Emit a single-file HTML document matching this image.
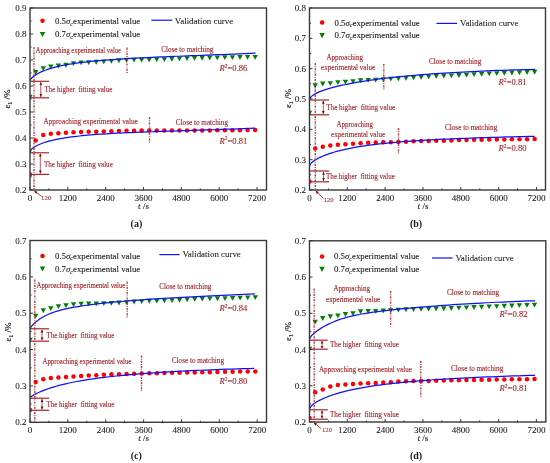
<!DOCTYPE html>
<html><head><meta charset="utf-8"><style>
html,body{margin:0;padding:0;background:#fff;}
svg{display:block;font-family:"Liberation Serif", serif;will-change:transform;}
</style></head><body>
<svg width="550" height="463" viewBox="0 0 550 463">
<rect width="550" height="463" fill="#fff"/>
<clipPath id="c308"><rect x="30" y="8" width="236.5" height="182"/></clipPath><g clip-path="url(#c308)">
<path d="M27.30,94.65 L32.70,94.65 L30.00,99.50 Z" fill="#008000"/>
<path d="M32.97,69.96 L38.38,69.96 L35.67,74.81 Z" fill="#008000"/>
<path d="M40.54,66.23 L45.94,66.23 L43.24,71.08 Z" fill="#008000"/>
<path d="M48.11,64.45 L53.51,64.45 L50.81,69.30 Z" fill="#008000"/>
<path d="M55.67,63.54 L61.08,63.54 L58.38,68.39 Z" fill="#008000"/>
<path d="M63.24,62.83 L68.64,62.83 L65.94,67.68 Z" fill="#008000"/>
<path d="M70.81,61.25 L76.21,61.25 L73.51,66.10 Z" fill="#008000"/>
<path d="M78.38,60.51 L83.78,60.51 L81.08,65.36 Z" fill="#008000"/>
<path d="M85.94,60.16 L91.34,60.16 L88.64,65.01 Z" fill="#008000"/>
<path d="M93.51,59.84 L98.91,59.84 L96.21,64.69 Z" fill="#008000"/>
<path d="M101.08,59.41 L106.48,59.41 L103.78,64.26 Z" fill="#008000"/>
<path d="M108.64,58.93 L114.04,58.93 L111.34,63.78 Z" fill="#008000"/>
<path d="M116.21,58.29 L121.61,58.29 L118.91,63.14 Z" fill="#008000"/>
<path d="M123.78,57.85 L129.18,57.85 L126.48,62.70 Z" fill="#008000"/>
<path d="M131.34,57.74 L136.74,57.74 L134.04,62.59 Z" fill="#008000"/>
<path d="M138.91,57.65 L144.31,57.65 L141.61,62.50 Z" fill="#008000"/>
<path d="M146.48,57.51 L151.88,57.51 L149.18,62.36 Z" fill="#008000"/>
<path d="M154.04,57.34 L159.44,57.34 L156.74,62.19 Z" fill="#008000"/>
<path d="M161.61,57.14 L167.01,57.14 L164.31,61.99 Z" fill="#008000"/>
<path d="M169.18,56.86 L174.57,56.86 L171.88,61.71 Z" fill="#008000"/>
<path d="M176.74,56.52 L182.14,56.52 L179.44,61.37 Z" fill="#008000"/>
<path d="M184.31,56.23 L189.71,56.23 L187.01,61.08 Z" fill="#008000"/>
<path d="M191.88,56.00 L197.28,56.00 L194.58,60.85 Z" fill="#008000"/>
<path d="M199.44,55.78 L204.84,55.78 L202.14,60.63 Z" fill="#008000"/>
<path d="M207.01,55.58 L212.41,55.58 L209.71,60.43 Z" fill="#008000"/>
<path d="M214.58,55.40 L219.97,55.40 L217.28,60.25 Z" fill="#008000"/>
<path d="M222.14,55.25 L227.54,55.25 L224.84,60.10 Z" fill="#008000"/>
<path d="M229.71,55.15 L235.11,55.15 L232.41,60.00 Z" fill="#008000"/>
<path d="M237.28,55.06 L242.68,55.06 L239.98,59.91 Z" fill="#008000"/>
<path d="M244.84,54.99 L250.24,54.99 L247.54,59.84 Z" fill="#008000"/>
<path d="M252.41,54.95 L257.81,54.95 L255.11,59.80 Z" fill="#008000"/>
<circle cx="30.00" cy="174.40" r="2.25" fill="#FF0000"/>
<circle cx="35.67" cy="140.53" r="2.25" fill="#FF0000"/>
<circle cx="43.24" cy="134.99" r="2.25" fill="#FF0000"/>
<circle cx="50.81" cy="133.80" r="2.25" fill="#FF0000"/>
<circle cx="58.38" cy="133.19" r="2.25" fill="#FF0000"/>
<circle cx="65.94" cy="132.69" r="2.25" fill="#FF0000"/>
<circle cx="73.51" cy="132.20" r="2.25" fill="#FF0000"/>
<circle cx="81.08" cy="132.00" r="2.25" fill="#FF0000"/>
<circle cx="88.64" cy="131.83" r="2.25" fill="#FF0000"/>
<circle cx="96.21" cy="131.67" r="2.25" fill="#FF0000"/>
<circle cx="103.78" cy="131.49" r="2.25" fill="#FF0000"/>
<circle cx="111.34" cy="131.25" r="2.25" fill="#FF0000"/>
<circle cx="118.91" cy="130.99" r="2.25" fill="#FF0000"/>
<circle cx="126.48" cy="130.80" r="2.25" fill="#FF0000"/>
<circle cx="134.04" cy="130.67" r="2.25" fill="#FF0000"/>
<circle cx="141.61" cy="130.60" r="2.25" fill="#FF0000"/>
<circle cx="149.18" cy="130.58" r="2.25" fill="#FF0000"/>
<circle cx="156.74" cy="130.56" r="2.25" fill="#FF0000"/>
<circle cx="164.31" cy="130.55" r="2.25" fill="#FF0000"/>
<circle cx="171.88" cy="130.54" r="2.25" fill="#FF0000"/>
<circle cx="179.44" cy="130.53" r="2.25" fill="#FF0000"/>
<circle cx="187.01" cy="130.52" r="2.25" fill="#FF0000"/>
<circle cx="194.58" cy="130.50" r="2.25" fill="#FF0000"/>
<circle cx="202.14" cy="130.47" r="2.25" fill="#FF0000"/>
<circle cx="209.71" cy="130.43" r="2.25" fill="#FF0000"/>
<circle cx="217.28" cy="130.37" r="2.25" fill="#FF0000"/>
<circle cx="224.84" cy="130.31" r="2.25" fill="#FF0000"/>
<circle cx="232.41" cy="130.23" r="2.25" fill="#FF0000"/>
<circle cx="239.98" cy="130.16" r="2.25" fill="#FF0000"/>
<circle cx="247.54" cy="130.08" r="2.25" fill="#FF0000"/>
<circle cx="255.11" cy="130.00" r="2.25" fill="#FF0000"/>
<polyline points="30.00,81.21 30.04,80.81 30.14,80.38 30.33,79.94 30.58,79.47 30.90,78.98 31.30,78.48 31.77,77.96 32.31,77.42 32.93,76.88 33.61,76.32 34.37,75.75 35.20,75.18 36.11,74.60 37.08,74.02 38.13,73.43 39.25,72.85 40.44,72.26 41.71,71.68 43.04,71.11 44.45,70.54 45.93,69.97 47.49,69.42 49.11,68.88 50.81,68.36 52.58,67.84 54.43,67.34 56.34,66.86 58.33,66.39 60.39,65.93 62.52,65.48 64.72,65.05 67.00,64.63 69.35,64.23 71.77,63.84 74.26,63.46 76.83,63.09 79.46,62.73 82.17,62.39 84.96,62.06 87.81,61.74 90.74,61.43 93.74,61.13 96.81,60.84 99.95,60.56 103.17,60.29 106.46,60.02 109.82,59.77 113.25,59.52 116.75,59.28 120.33,59.05 123.98,58.82 127.70,58.60 131.49,58.39 135.36,58.18 139.30,57.97 143.31,57.77 147.39,57.57 151.55,57.38 155.78,57.18 160.08,56.99 164.45,56.80 168.89,56.62 173.41,56.43 178.00,56.25 182.66,56.06 187.39,55.87 192.20,55.69 197.07,55.50 202.02,55.31 207.05,55.12 212.14,54.92 217.31,54.72 222.55,54.52 227.86,54.32 233.24,54.11 238.70,53.89 244.23,53.67 249.83,53.44 255.50,53.21" fill="none" stroke="#1010F8" stroke-width="1.25" stroke-linejoin="round"/>
<polyline points="30.00,152.01 30.04,151.61 30.14,151.19 30.32,150.76 30.58,150.32 30.90,149.87 31.30,149.40 31.77,148.93 32.31,148.45 32.92,147.97 33.61,147.48 34.36,146.98 35.19,146.48 36.09,145.98 37.07,145.48 38.11,144.98 39.23,144.48 40.42,143.99 41.68,143.50 43.01,143.01 44.42,142.53 45.90,142.06 47.45,141.59 49.07,141.14 50.77,140.70 52.53,140.27 54.37,139.85 56.28,139.44 58.26,139.04 60.32,138.66 62.45,138.29 64.65,137.92 66.92,137.57 69.26,137.24 71.68,136.91 74.16,136.59 76.72,136.29 79.36,136.00 82.06,135.71 84.83,135.44 87.68,135.18 90.60,134.93 93.60,134.69 96.66,134.46 99.80,134.24 103.01,134.02 106.29,133.81 109.64,133.61 113.06,133.42 116.56,133.23 120.13,133.05 123.77,132.87 127.48,132.70 131.27,132.54 135.13,132.37 139.06,132.21 143.06,132.06 147.13,131.90 151.28,131.75 155.50,131.60 159.79,131.45 164.15,131.30 168.58,131.15 173.09,131.01 177.67,130.86 182.32,130.71 187.04,130.55 191.84,130.40 196.70,130.24 201.64,130.08 206.65,129.92 211.74,129.75 216.89,129.58 222.12,129.41 227.42,129.22 232.79,129.04 238.24,128.84 243.75,128.64 249.34,128.43 255.00,128.22" fill="none" stroke="#1010F8" stroke-width="1.25" stroke-linejoin="round"/>
</g>
<line x1="34" y1="47" x2="34" y2="190" stroke="#A3262C" stroke-width="1.4" stroke-opacity="0.85" stroke-dasharray="2.2,1.1,0.9,1.1"/>
<line x1="127" y1="47.5" x2="127" y2="73.5" stroke="#A3262C" stroke-width="1.4" stroke-opacity="0.85" stroke-dasharray="2.2,1.1,0.9,1.1"/>
<line x1="149.5" y1="117" x2="149.5" y2="143" stroke="#A3262C" stroke-width="1.4" stroke-opacity="0.85" stroke-dasharray="2.2,1.1,0.9,1.1"/>
<line x1="30" y1="81.3" x2="49" y2="81.3" stroke="#A3262C" stroke-width="1.2"/>
<line x1="30" y1="97.8" x2="49" y2="97.8" stroke="#A3262C" stroke-width="1.2"/>
<line x1="40.8" y1="82.3" x2="40.8" y2="96.8" stroke="#A3262C" stroke-width="0.8"/>
<path d="M39.5,85.1 L40.8,81.89999999999999 L42.099999999999994,85.1 Z M39.5,94.0 L40.8,97.2 L42.099999999999994,94.0 Z" fill="#8B0000"/>
<line x1="30" y1="152.8" x2="49" y2="152.8" stroke="#A3262C" stroke-width="1.2"/>
<line x1="30" y1="174.4" x2="49" y2="174.4" stroke="#A3262C" stroke-width="1.2"/>
<line x1="40.3" y1="153.8" x2="40.3" y2="173.4" stroke="#A3262C" stroke-width="0.8"/>
<path d="M39.0,156.6 L40.3,153.4 L41.599999999999994,156.6 Z M39.0,170.60000000000002 L40.3,173.8 L41.599999999999994,170.60000000000002 Z" fill="#8B0000"/>
<text transform="translate(35.8,53.2) scale(1,1.25)" font-size="6.5" fill="#A3262C" stroke="#A3262C" stroke-width="0.12">Approaching experimental value</text>
<text transform="translate(161.2,51.8) scale(1,1.1)" font-size="7.2" fill="#A3262C" stroke="#A3262C" stroke-width="0.12">Close to matching</text>
<text transform="translate(44.4,91.6) scale(1,1.1)" font-size="7" fill="#A3262C" stroke="#A3262C" stroke-width="0.12">The higher&#160; fitting value</text>
<text transform="translate(43.6,124.4) scale(1,1.1)" font-size="7.2" fill="#A3262C" stroke="#A3262C" stroke-width="0.12">Approaching experimental value</text>
<text transform="translate(175.8,124.7) scale(1,1.1)" font-size="7.2" fill="#A3262C" stroke="#A3262C" stroke-width="0.12">Close to matching</text>
<text transform="translate(43.9,167) scale(1,1.1)" font-size="7.1" fill="#A3262C" stroke="#A3262C" stroke-width="0.12">The higher&#160; fitting value</text>
<text x="219.5" y="71.3" font-size="8.6" fill="#A3262C" stroke="#A3262C" stroke-width="0.12"><tspan font-style="italic">R</tspan><tspan font-size="5.5" dy="-3.3">2</tspan><tspan dy="3.3">=0.86</tspan></text>
<text x="219.5" y="143.6" font-size="8.6" fill="#A3262C" stroke="#A3262C" stroke-width="0.12"><tspan font-style="italic">R</tspan><tspan font-size="5.5" dy="-3.3">2</tspan><tspan dy="3.3">=0.81</tspan></text>
<line x1="41.4" y1="196.4" x2="34.2" y2="190.8" stroke="#A3262C" stroke-width="0.9"/>
<path d="M34.2,190.8 L37.59,191.66 L35.87,193.87 Z" fill="#8B0000"/>
<text x="41.10" y="199.60" font-size="6.8" fill="#A3262C" stroke="#A3262C" stroke-width="0.08" text-anchor="start" >120</text>
<rect x="30" y="8" width="236.5" height="182" fill="none" stroke="#383838" stroke-width="1.4"/>
<line x1="30.00" y1="190" x2="30.00" y2="187" stroke="#383838" stroke-width="1"/>
<text x="30.00" y="201.00" font-size="9" fill="#1a1a1a" stroke="#1a1a1a" stroke-width="0.08" text-anchor="middle" >0</text>
<line x1="48.92" y1="190" x2="48.92" y2="188.4" stroke="#383838" stroke-width="1"/>
<line x1="67.83" y1="190" x2="67.83" y2="187" stroke="#383838" stroke-width="1"/>
<text x="67.83" y="201.00" font-size="9" fill="#1a1a1a" stroke="#1a1a1a" stroke-width="0.08" text-anchor="middle" >1200</text>
<line x1="86.75" y1="190" x2="86.75" y2="188.4" stroke="#383838" stroke-width="1"/>
<line x1="105.67" y1="190" x2="105.67" y2="187" stroke="#383838" stroke-width="1"/>
<text x="105.67" y="201.00" font-size="9" fill="#1a1a1a" stroke="#1a1a1a" stroke-width="0.08" text-anchor="middle" >2400</text>
<line x1="124.58" y1="190" x2="124.58" y2="188.4" stroke="#383838" stroke-width="1"/>
<line x1="143.50" y1="190" x2="143.50" y2="187" stroke="#383838" stroke-width="1"/>
<text x="143.50" y="201.00" font-size="9" fill="#1a1a1a" stroke="#1a1a1a" stroke-width="0.08" text-anchor="middle" >3600</text>
<line x1="162.42" y1="190" x2="162.42" y2="188.4" stroke="#383838" stroke-width="1"/>
<line x1="181.33" y1="190" x2="181.33" y2="187" stroke="#383838" stroke-width="1"/>
<text x="181.33" y="201.00" font-size="9" fill="#1a1a1a" stroke="#1a1a1a" stroke-width="0.08" text-anchor="middle" >4800</text>
<line x1="200.25" y1="190" x2="200.25" y2="188.4" stroke="#383838" stroke-width="1"/>
<line x1="219.17" y1="190" x2="219.17" y2="187" stroke="#383838" stroke-width="1"/>
<text x="219.17" y="201.00" font-size="9" fill="#1a1a1a" stroke="#1a1a1a" stroke-width="0.08" text-anchor="middle" >6000</text>
<line x1="238.08" y1="190" x2="238.08" y2="188.4" stroke="#383838" stroke-width="1"/>
<line x1="257.00" y1="190" x2="257.00" y2="187" stroke="#383838" stroke-width="1"/>
<text x="257.00" y="201.00" font-size="9" fill="#1a1a1a" stroke="#1a1a1a" stroke-width="0.08" text-anchor="middle" >7200</text>
<line x1="30" y1="190.00" x2="33" y2="190.00" stroke="#383838" stroke-width="1"/>
<text x="26.40" y="193.10" font-size="9" fill="#1a1a1a" stroke="#1a1a1a" stroke-width="0.08" text-anchor="end" >0.2</text>
<line x1="30" y1="177.00" x2="31.6" y2="177.00" stroke="#383838" stroke-width="1"/>
<line x1="30" y1="164.00" x2="33" y2="164.00" stroke="#383838" stroke-width="1"/>
<text x="26.40" y="167.10" font-size="9" fill="#1a1a1a" stroke="#1a1a1a" stroke-width="0.08" text-anchor="end" >0.3</text>
<line x1="30" y1="151.00" x2="31.6" y2="151.00" stroke="#383838" stroke-width="1"/>
<line x1="30" y1="138.00" x2="33" y2="138.00" stroke="#383838" stroke-width="1"/>
<text x="26.40" y="141.10" font-size="9" fill="#1a1a1a" stroke="#1a1a1a" stroke-width="0.08" text-anchor="end" >0.4</text>
<line x1="30" y1="125.00" x2="31.6" y2="125.00" stroke="#383838" stroke-width="1"/>
<line x1="30" y1="112.00" x2="33" y2="112.00" stroke="#383838" stroke-width="1"/>
<text x="26.40" y="115.10" font-size="9" fill="#1a1a1a" stroke="#1a1a1a" stroke-width="0.08" text-anchor="end" >0.5</text>
<line x1="30" y1="99.00" x2="31.6" y2="99.00" stroke="#383838" stroke-width="1"/>
<line x1="30" y1="86.00" x2="33" y2="86.00" stroke="#383838" stroke-width="1"/>
<text x="26.40" y="89.10" font-size="9" fill="#1a1a1a" stroke="#1a1a1a" stroke-width="0.08" text-anchor="end" >0.6</text>
<line x1="30" y1="73.00" x2="31.6" y2="73.00" stroke="#383838" stroke-width="1"/>
<line x1="30" y1="60.00" x2="33" y2="60.00" stroke="#383838" stroke-width="1"/>
<text x="26.40" y="63.10" font-size="9" fill="#1a1a1a" stroke="#1a1a1a" stroke-width="0.08" text-anchor="end" >0.7</text>
<line x1="30" y1="47.00" x2="31.6" y2="47.00" stroke="#383838" stroke-width="1"/>
<line x1="30" y1="34.00" x2="33" y2="34.00" stroke="#383838" stroke-width="1"/>
<text x="26.40" y="37.10" font-size="9" fill="#1a1a1a" stroke="#1a1a1a" stroke-width="0.08" text-anchor="end" >0.8</text>
<line x1="30" y1="21.00" x2="31.6" y2="21.00" stroke="#383838" stroke-width="1"/>
<line x1="30" y1="8.00" x2="33" y2="8.00" stroke="#383838" stroke-width="1"/>
<text x="26.40" y="11.10" font-size="9" fill="#1a1a1a" stroke="#1a1a1a" stroke-width="0.08" text-anchor="end" >0.9</text>
<text transform="translate(10.0,99) rotate(-90)" font-size="9" fill="#1a1a1a" stroke="#1a1a1a" stroke-width="0.15" text-anchor="middle"><tspan>ε</tspan><tspan font-size="6" dy="1.8">1</tspan><tspan dy="-1.8"> /%</tspan></text>
<text x="143.50" y="209" font-size="9" fill="#1a1a1a" stroke="#1a1a1a" stroke-width="0.1" text-anchor="middle"><tspan font-style="italic">t</tspan> /s</text>
<text x="136.4" y="226.6" font-size="10" fill="#1a1a1a" text-anchor="middle" font-weight="bold">(a)</text>
<circle cx="42.5" cy="20.8" r="2.25" fill="#FF0000"/>
<path d="M39.8,31.95 L45.2,31.95 L42.5,37.05 Z" fill="#008000"/>
<text x="55" y="24" font-size="8.8" fill="#1a1a1a" stroke="#1a1a1a" stroke-width="0.1">0.5<tspan font-style="italic">σ</tspan><tspan font-size="6" dy="1.8" font-style="italic">c</tspan><tspan dy="-1.8">experimental value</tspan></text>
<text x="55" y="36.7" font-size="8.8" fill="#1a1a1a" stroke="#1a1a1a" stroke-width="0.1">0.7<tspan font-style="italic">σ</tspan><tspan font-size="6" dy="1.8" font-style="italic">c</tspan><tspan dy="-1.8">experimental value</tspan></text>
<line x1="151.3" y1="20.2" x2="172.2" y2="20.2" stroke="#1010F8" stroke-width="1.2"/>
<text x="174.80" y="24.30" font-size="8.9" fill="#1a1a1a" stroke="#1a1a1a" stroke-width="0.08" text-anchor="start" >Validation curve</text>
<clipPath id="c3103"><rect x="309.5" y="8" width="236.0" height="182"/></clipPath><g clip-path="url(#c3103)">
<path d="M306.80,110.85 L312.20,110.85 L309.50,115.70 Z" fill="#008000"/>
<path d="M312.48,83.31 L317.88,83.31 L315.18,88.16 Z" fill="#008000"/>
<path d="M320.04,81.57 L325.44,81.57 L322.74,86.42 Z" fill="#008000"/>
<path d="M327.61,81.16 L333.01,81.16 L330.31,86.01 Z" fill="#008000"/>
<path d="M335.18,80.16 L340.57,80.16 L337.88,85.01 Z" fill="#008000"/>
<path d="M342.74,79.65 L348.14,79.65 L345.44,84.50 Z" fill="#008000"/>
<path d="M350.31,79.15 L355.71,79.15 L353.01,84.00 Z" fill="#008000"/>
<path d="M357.88,78.34 L363.27,78.34 L360.57,83.19 Z" fill="#008000"/>
<path d="M365.44,77.97 L370.84,77.97 L368.14,82.82 Z" fill="#008000"/>
<path d="M373.01,77.64 L378.41,77.64 L375.71,82.49 Z" fill="#008000"/>
<path d="M380.57,77.14 L385.97,77.14 L383.27,81.99 Z" fill="#008000"/>
<path d="M388.14,76.65 L393.54,76.65 L390.84,81.50 Z" fill="#008000"/>
<path d="M395.71,76.30 L401.11,76.30 L398.41,81.15 Z" fill="#008000"/>
<path d="M403.28,75.94 L408.68,75.94 L405.98,80.79 Z" fill="#008000"/>
<path d="M410.84,75.46 L416.24,75.46 L413.54,80.31 Z" fill="#008000"/>
<path d="M418.41,74.93 L423.81,74.93 L421.11,79.78 Z" fill="#008000"/>
<path d="M425.98,74.44 L431.38,74.44 L428.68,79.29 Z" fill="#008000"/>
<path d="M433.54,74.00 L438.94,74.00 L436.24,78.85 Z" fill="#008000"/>
<path d="M441.11,73.63 L446.51,73.63 L443.81,78.48 Z" fill="#008000"/>
<path d="M448.68,73.39 L454.07,73.39 L451.38,78.24 Z" fill="#008000"/>
<path d="M456.24,73.12 L461.64,73.12 L458.94,77.97 Z" fill="#008000"/>
<path d="M463.81,72.69 L469.21,72.69 L466.51,77.54 Z" fill="#008000"/>
<path d="M471.38,72.25 L476.78,72.25 L474.08,77.10 Z" fill="#008000"/>
<path d="M478.94,71.88 L484.34,71.88 L481.64,76.73 Z" fill="#008000"/>
<path d="M486.51,71.52 L491.91,71.52 L489.21,76.37 Z" fill="#008000"/>
<path d="M494.07,71.19 L499.47,71.19 L496.77,76.04 Z" fill="#008000"/>
<path d="M501.64,70.88 L507.04,70.88 L504.34,75.73 Z" fill="#008000"/>
<path d="M509.21,70.58 L514.61,70.58 L511.91,75.43 Z" fill="#008000"/>
<path d="M516.77,70.31 L522.18,70.31 L519.48,75.16 Z" fill="#008000"/>
<path d="M524.34,70.06 L529.74,70.06 L527.04,74.91 Z" fill="#008000"/>
<path d="M531.91,69.84 L537.31,69.84 L534.61,74.69 Z" fill="#008000"/>
<circle cx="309.50" cy="181.50" r="2.25" fill="#FF0000"/>
<circle cx="315.18" cy="148.56" r="2.25" fill="#FF0000"/>
<circle cx="322.74" cy="146.85" r="2.25" fill="#FF0000"/>
<circle cx="330.31" cy="145.52" r="2.25" fill="#FF0000"/>
<circle cx="337.88" cy="144.81" r="2.25" fill="#FF0000"/>
<circle cx="345.44" cy="144.20" r="2.25" fill="#FF0000"/>
<circle cx="353.01" cy="143.80" r="2.25" fill="#FF0000"/>
<circle cx="360.57" cy="143.20" r="2.25" fill="#FF0000"/>
<circle cx="368.14" cy="142.81" r="2.25" fill="#FF0000"/>
<circle cx="375.71" cy="142.52" r="2.25" fill="#FF0000"/>
<circle cx="383.27" cy="142.29" r="2.25" fill="#FF0000"/>
<circle cx="390.84" cy="142.15" r="2.25" fill="#FF0000"/>
<circle cx="398.41" cy="141.99" r="2.25" fill="#FF0000"/>
<circle cx="405.98" cy="141.66" r="2.25" fill="#FF0000"/>
<circle cx="413.54" cy="141.26" r="2.25" fill="#FF0000"/>
<circle cx="421.11" cy="140.99" r="2.25" fill="#FF0000"/>
<circle cx="428.68" cy="140.88" r="2.25" fill="#FF0000"/>
<circle cx="436.24" cy="140.80" r="2.25" fill="#FF0000"/>
<circle cx="443.81" cy="140.69" r="2.25" fill="#FF0000"/>
<circle cx="451.38" cy="140.43" r="2.25" fill="#FF0000"/>
<circle cx="458.94" cy="140.11" r="2.25" fill="#FF0000"/>
<circle cx="466.51" cy="139.89" r="2.25" fill="#FF0000"/>
<circle cx="474.08" cy="139.77" r="2.25" fill="#FF0000"/>
<circle cx="481.64" cy="139.69" r="2.25" fill="#FF0000"/>
<circle cx="489.21" cy="139.61" r="2.25" fill="#FF0000"/>
<circle cx="496.77" cy="139.54" r="2.25" fill="#FF0000"/>
<circle cx="504.34" cy="139.45" r="2.25" fill="#FF0000"/>
<circle cx="511.91" cy="139.36" r="2.25" fill="#FF0000"/>
<circle cx="519.48" cy="139.27" r="2.25" fill="#FF0000"/>
<circle cx="527.04" cy="139.18" r="2.25" fill="#FF0000"/>
<circle cx="534.61" cy="139.09" r="2.25" fill="#FF0000"/>
<polyline points="309.50,99.81 309.54,99.37 309.64,98.92 309.83,98.47 310.08,98.01 310.40,97.54 310.80,97.07 311.27,96.60 311.82,96.12 312.43,95.64 313.12,95.15 313.88,94.66 314.71,94.17 315.61,93.67 316.59,93.18 317.64,92.68 318.76,92.18 319.96,91.68 321.22,91.18 322.56,90.67 323.97,90.17 325.46,89.67 327.01,89.17 328.64,88.67 330.34,88.17 332.11,87.67 333.96,87.18 335.88,86.68 337.87,86.20 339.93,85.71 342.06,85.23 344.27,84.75 346.55,84.27 348.90,83.80 351.32,83.34 353.82,82.88 356.39,82.42 359.03,81.97 361.74,81.53 364.53,81.09 367.39,80.66 370.32,80.23 373.32,79.81 376.40,79.40 379.54,78.99 382.76,78.59 386.06,78.19 389.42,77.80 392.86,77.42 396.37,77.05 399.95,76.68 403.60,76.31 407.33,75.96 411.13,75.61 415.00,75.27 418.94,74.94 422.96,74.61 427.05,74.29 431.21,73.98 435.44,73.68 439.75,73.38 444.13,73.10 448.58,72.82 453.10,72.55 457.69,72.28 462.36,72.03 467.10,71.78 471.91,71.55 476.80,71.32 481.75,71.10 486.78,70.89 491.88,70.69 497.06,70.49 502.30,70.31 507.62,70.14 513.01,69.97 518.48,69.82 524.01,69.67 529.62,69.54 535.30,69.41" fill="none" stroke="#1010F8" stroke-width="1.25" stroke-linejoin="round"/>
<polyline points="309.50,166.51 309.54,166.06 309.64,165.59 309.82,165.12 310.08,164.62 310.40,164.12 310.80,163.60 311.27,163.08 311.81,162.54 312.42,162.00 313.11,161.45 313.86,160.89 314.69,160.33 315.59,159.76 316.57,159.18 317.61,158.60 318.73,158.02 319.92,157.44 321.18,156.86 322.51,156.28 323.92,155.70 325.40,155.11 326.95,154.54 328.57,153.96 330.27,153.39 332.03,152.83 333.87,152.27 335.78,151.71 337.76,151.17 339.82,150.63 341.95,150.10 344.15,149.59 346.42,149.08 348.76,148.58 351.18,148.10 353.66,147.63 356.22,147.18 358.86,146.73 361.56,146.30 364.33,145.88 367.18,145.47 370.10,145.08 373.10,144.69 376.16,144.32 379.30,143.95 382.51,143.60 385.79,143.26 389.14,142.93 392.56,142.61 396.06,142.30 399.63,141.99 403.27,141.70 406.98,141.42 410.77,141.14 414.63,140.87 418.56,140.62 422.56,140.37 426.63,140.12 430.78,139.89 435.00,139.66 439.29,139.44 443.65,139.23 448.08,139.02 452.59,138.82 457.17,138.63 461.82,138.44 466.54,138.26 471.34,138.08 476.20,137.91 481.14,137.74 486.15,137.58 491.24,137.42 496.39,137.27 501.62,137.12 506.92,136.98 512.29,136.84 517.74,136.70 523.25,136.57 528.84,136.44 534.50,136.31" fill="none" stroke="#1010F8" stroke-width="1.25" stroke-linejoin="round"/>
</g>
<line x1="315.3" y1="63" x2="315.3" y2="190" stroke="#A3262C" stroke-width="1.4" stroke-opacity="0.85" stroke-dasharray="2.2,1.1,0.9,1.1"/>
<line x1="383.8" y1="64" x2="383.8" y2="89.5" stroke="#A3262C" stroke-width="1.4" stroke-opacity="0.85" stroke-dasharray="2.2,1.1,0.9,1.1"/>
<line x1="398.5" y1="128" x2="398.5" y2="153.5" stroke="#A3262C" stroke-width="1.4" stroke-opacity="0.85" stroke-dasharray="2.2,1.1,0.9,1.1"/>
<line x1="309.5" y1="100" x2="329" y2="100" stroke="#A3262C" stroke-width="1.2"/>
<line x1="309.5" y1="114.8" x2="329" y2="114.8" stroke="#A3262C" stroke-width="1.2"/>
<line x1="323.3" y1="101" x2="323.3" y2="113.8" stroke="#A3262C" stroke-width="0.8"/>
<path d="M322.0,103.8 L323.3,100.6 L324.6,103.8 Z M322.0,111.0 L323.3,114.2 L324.6,111.0 Z" fill="#8B0000"/>
<line x1="309.5" y1="171" x2="329" y2="171" stroke="#A3262C" stroke-width="1.2"/>
<line x1="309.5" y1="181.8" x2="329" y2="181.8" stroke="#A3262C" stroke-width="1.2"/>
<line x1="323.5" y1="172" x2="323.5" y2="180.8" stroke="#A3262C" stroke-width="0.8"/>
<path d="M322.2,174.79999999999998 L323.5,171.6 L324.8,174.79999999999998 Z M322.2,178.00000000000003 L323.5,181.20000000000002 L324.8,178.00000000000003 Z" fill="#8B0000"/>
<text transform="translate(326.5,59.5) scale(1,1.1)" font-size="7" fill="#A3262C" stroke="#A3262C" stroke-width="0.12">Approaching</text>
<text transform="translate(321,70) scale(1,1.1)" font-size="7.1" fill="#A3262C" stroke="#A3262C" stroke-width="0.12">experimental value</text>
<text transform="translate(429,63.7) scale(1,1.1)" font-size="7.2" fill="#A3262C" stroke="#A3262C" stroke-width="0.12">Close to matching</text>
<text transform="translate(326.3,109.5) scale(1,1.1)" font-size="7.1" fill="#A3262C" stroke="#A3262C" stroke-width="0.12">The higher&#160; fitting value</text>
<text transform="translate(336.5,126.8) scale(1,1.1)" font-size="7" fill="#A3262C" stroke="#A3262C" stroke-width="0.12">Approaching</text>
<text transform="translate(331,137.2) scale(1,1.1)" font-size="7.1" fill="#A3262C" stroke="#A3262C" stroke-width="0.12">experimental value</text>
<text transform="translate(445,130) scale(1,1.1)" font-size="7.2" fill="#A3262C" stroke="#A3262C" stroke-width="0.12">Close to matching</text>
<text transform="translate(326,179) scale(1,1.1)" font-size="7.1" fill="#A3262C" stroke="#A3262C" stroke-width="0.12">The higher&#160; fitting value</text>
<text x="498.6" y="84.8" font-size="8.6" fill="#A3262C" stroke="#A3262C" stroke-width="0.12"><tspan font-style="italic">R</tspan><tspan font-size="5.5" dy="-3.3">2</tspan><tspan dy="3.3">=0.81</tspan></text>
<text x="498.6" y="151.2" font-size="8.6" fill="#A3262C" stroke="#A3262C" stroke-width="0.12"><tspan font-style="italic">R</tspan><tspan font-size="5.5" dy="-3.3">2</tspan><tspan dy="3.3">=0.80</tspan></text>
<line x1="323.5" y1="198.5" x2="315.6" y2="190.8" stroke="#A3262C" stroke-width="0.9"/>
<path d="M315.6,190.8 L318.87,192.03 L316.91,194.04 Z" fill="#8B0000"/>
<text x="323.40" y="202.30" font-size="6.8" fill="#A3262C" stroke="#A3262C" stroke-width="0.08" text-anchor="start" >120</text>
<rect x="309.5" y="8" width="236.0" height="182" fill="none" stroke="#383838" stroke-width="1.4"/>
<line x1="309.50" y1="190" x2="309.50" y2="187" stroke="#383838" stroke-width="1"/>
<text x="309.50" y="201.00" font-size="9" fill="#1a1a1a" stroke="#1a1a1a" stroke-width="0.08" text-anchor="middle" >0</text>
<line x1="328.42" y1="190" x2="328.42" y2="188.4" stroke="#383838" stroke-width="1"/>
<line x1="347.33" y1="190" x2="347.33" y2="187" stroke="#383838" stroke-width="1"/>
<text x="347.33" y="201.00" font-size="9" fill="#1a1a1a" stroke="#1a1a1a" stroke-width="0.08" text-anchor="middle" >1200</text>
<line x1="366.25" y1="190" x2="366.25" y2="188.4" stroke="#383838" stroke-width="1"/>
<line x1="385.17" y1="190" x2="385.17" y2="187" stroke="#383838" stroke-width="1"/>
<text x="385.17" y="201.00" font-size="9" fill="#1a1a1a" stroke="#1a1a1a" stroke-width="0.08" text-anchor="middle" >2400</text>
<line x1="404.08" y1="190" x2="404.08" y2="188.4" stroke="#383838" stroke-width="1"/>
<line x1="423.00" y1="190" x2="423.00" y2="187" stroke="#383838" stroke-width="1"/>
<text x="423.00" y="201.00" font-size="9" fill="#1a1a1a" stroke="#1a1a1a" stroke-width="0.08" text-anchor="middle" >3600</text>
<line x1="441.92" y1="190" x2="441.92" y2="188.4" stroke="#383838" stroke-width="1"/>
<line x1="460.83" y1="190" x2="460.83" y2="187" stroke="#383838" stroke-width="1"/>
<text x="460.83" y="201.00" font-size="9" fill="#1a1a1a" stroke="#1a1a1a" stroke-width="0.08" text-anchor="middle" >4800</text>
<line x1="479.75" y1="190" x2="479.75" y2="188.4" stroke="#383838" stroke-width="1"/>
<line x1="498.67" y1="190" x2="498.67" y2="187" stroke="#383838" stroke-width="1"/>
<text x="498.67" y="201.00" font-size="9" fill="#1a1a1a" stroke="#1a1a1a" stroke-width="0.08" text-anchor="middle" >6000</text>
<line x1="517.58" y1="190" x2="517.58" y2="188.4" stroke="#383838" stroke-width="1"/>
<line x1="536.50" y1="190" x2="536.50" y2="187" stroke="#383838" stroke-width="1"/>
<text x="536.50" y="201.00" font-size="9" fill="#1a1a1a" stroke="#1a1a1a" stroke-width="0.08" text-anchor="middle" >7200</text>
<line x1="309.5" y1="190.00" x2="312.5" y2="190.00" stroke="#383838" stroke-width="1"/>
<text x="305.90" y="193.10" font-size="9" fill="#1a1a1a" stroke="#1a1a1a" stroke-width="0.08" text-anchor="end" >0.2</text>
<line x1="309.5" y1="174.83" x2="311.1" y2="174.83" stroke="#383838" stroke-width="1"/>
<line x1="309.5" y1="159.67" x2="312.5" y2="159.67" stroke="#383838" stroke-width="1"/>
<text x="305.90" y="162.77" font-size="9" fill="#1a1a1a" stroke="#1a1a1a" stroke-width="0.08" text-anchor="end" >0.3</text>
<line x1="309.5" y1="144.50" x2="311.1" y2="144.50" stroke="#383838" stroke-width="1"/>
<line x1="309.5" y1="129.33" x2="312.5" y2="129.33" stroke="#383838" stroke-width="1"/>
<text x="305.90" y="132.43" font-size="9" fill="#1a1a1a" stroke="#1a1a1a" stroke-width="0.08" text-anchor="end" >0.4</text>
<line x1="309.5" y1="114.17" x2="311.1" y2="114.17" stroke="#383838" stroke-width="1"/>
<line x1="309.5" y1="99.00" x2="312.5" y2="99.00" stroke="#383838" stroke-width="1"/>
<text x="305.90" y="102.10" font-size="9" fill="#1a1a1a" stroke="#1a1a1a" stroke-width="0.08" text-anchor="end" >0.5</text>
<line x1="309.5" y1="83.83" x2="311.1" y2="83.83" stroke="#383838" stroke-width="1"/>
<line x1="309.5" y1="68.67" x2="312.5" y2="68.67" stroke="#383838" stroke-width="1"/>
<text x="305.90" y="71.77" font-size="9" fill="#1a1a1a" stroke="#1a1a1a" stroke-width="0.08" text-anchor="end" >0.6</text>
<line x1="309.5" y1="53.50" x2="311.1" y2="53.50" stroke="#383838" stroke-width="1"/>
<line x1="309.5" y1="38.33" x2="312.5" y2="38.33" stroke="#383838" stroke-width="1"/>
<text x="305.90" y="41.43" font-size="9" fill="#1a1a1a" stroke="#1a1a1a" stroke-width="0.08" text-anchor="end" >0.7</text>
<line x1="309.5" y1="23.17" x2="311.1" y2="23.17" stroke="#383838" stroke-width="1"/>
<line x1="309.5" y1="8.00" x2="312.5" y2="8.00" stroke="#383838" stroke-width="1"/>
<text x="305.90" y="11.10" font-size="9" fill="#1a1a1a" stroke="#1a1a1a" stroke-width="0.08" text-anchor="end" >0.8</text>
<text transform="translate(290.8,98.5) rotate(-90)" font-size="9" fill="#1a1a1a" stroke="#1a1a1a" stroke-width="0.15" text-anchor="middle"><tspan>ε</tspan><tspan font-size="6" dy="1.8">1</tspan><tspan dy="-1.8"> /%</tspan></text>
<text x="423.00" y="209" font-size="9" fill="#1a1a1a" stroke="#1a1a1a" stroke-width="0.1" text-anchor="middle"><tspan font-style="italic">t</tspan> /s</text>
<text x="416" y="226.6" font-size="10" fill="#1a1a1a" text-anchor="middle" font-weight="bold">(b)</text>
<circle cx="322.1" cy="22.5" r="2.25" fill="#FF0000"/>
<path d="M319.40000000000003,33.050000000000004 L324.8,33.050000000000004 L322.1,38.15 Z" fill="#008000"/>
<text x="334.5" y="25.6" font-size="8.8" fill="#1a1a1a" stroke="#1a1a1a" stroke-width="0.1">0.5<tspan font-style="italic">σ</tspan><tspan font-size="6" dy="1.8" font-style="italic">c</tspan><tspan dy="-1.8">experimental value</tspan></text>
<text x="334.5" y="38.3" font-size="8.8" fill="#1a1a1a" stroke="#1a1a1a" stroke-width="0.1">0.7<tspan font-style="italic">σ</tspan><tspan font-size="6" dy="1.8" font-style="italic">c</tspan><tspan dy="-1.8">experimental value</tspan></text>
<line x1="436.4" y1="23.4" x2="457" y2="23.4" stroke="#1010F8" stroke-width="1.2"/>
<text x="460.00" y="26.00" font-size="8.9" fill="#1a1a1a" stroke="#1a1a1a" stroke-width="0.08" text-anchor="start" >Validation curve</text>
<clipPath id="c540"><rect x="30" y="240.5" width="236.5" height="181.8"/></clipPath><g clip-path="url(#c540)">
<path d="M27.30,337.65 L32.70,337.65 L30.00,342.50 Z" fill="#008000"/>
<path d="M32.98,313.77 L38.38,313.77 L35.68,318.62 Z" fill="#008000"/>
<path d="M40.55,308.31 L45.95,308.31 L43.25,313.16 Z" fill="#008000"/>
<path d="M48.13,306.27 L53.53,306.27 L50.83,311.12 Z" fill="#008000"/>
<path d="M55.70,304.19 L61.10,304.19 L58.40,309.04 Z" fill="#008000"/>
<path d="M63.27,303.15 L68.67,303.15 L65.97,308.00 Z" fill="#008000"/>
<path d="M70.85,302.16 L76.25,302.16 L73.55,307.01 Z" fill="#008000"/>
<path d="M78.42,301.75 L83.82,301.75 L81.12,306.60 Z" fill="#008000"/>
<path d="M85.99,301.59 L91.39,301.59 L88.69,306.44 Z" fill="#008000"/>
<path d="M93.57,301.44 L98.97,301.44 L96.27,306.29 Z" fill="#008000"/>
<path d="M101.14,301.22 L106.54,301.22 L103.84,306.07 Z" fill="#008000"/>
<path d="M108.71,300.93 L114.11,300.93 L111.41,305.78 Z" fill="#008000"/>
<path d="M116.29,300.56 L121.69,300.56 L118.99,305.41 Z" fill="#008000"/>
<path d="M123.86,300.13 L129.26,300.13 L126.56,304.98 Z" fill="#008000"/>
<path d="M131.43,299.60 L136.83,299.60 L134.13,304.45 Z" fill="#008000"/>
<path d="M139.01,299.14 L144.41,299.14 L141.71,303.99 Z" fill="#008000"/>
<path d="M146.58,298.87 L151.98,298.87 L149.28,303.72 Z" fill="#008000"/>
<path d="M154.15,298.64 L159.55,298.64 L156.85,303.49 Z" fill="#008000"/>
<path d="M161.73,298.39 L167.13,298.39 L164.43,303.24 Z" fill="#008000"/>
<path d="M169.30,298.13 L174.70,298.13 L172.00,302.98 Z" fill="#008000"/>
<path d="M176.87,297.82 L182.27,297.82 L179.57,302.67 Z" fill="#008000"/>
<path d="M184.45,297.34 L189.85,297.34 L187.15,302.19 Z" fill="#008000"/>
<path d="M192.02,296.92 L197.42,296.92 L194.72,301.77 Z" fill="#008000"/>
<path d="M199.59,296.66 L204.99,296.66 L202.29,301.51 Z" fill="#008000"/>
<path d="M207.17,296.46 L212.57,296.46 L209.87,301.31 Z" fill="#008000"/>
<path d="M214.74,296.29 L220.14,296.29 L217.44,301.14 Z" fill="#008000"/>
<path d="M222.31,296.13 L227.71,296.13 L225.01,300.98 Z" fill="#008000"/>
<path d="M229.89,295.95 L235.29,295.95 L232.59,300.80 Z" fill="#008000"/>
<path d="M237.46,295.73 L242.86,295.73 L240.16,300.58 Z" fill="#008000"/>
<path d="M245.03,295.46 L250.43,295.46 L247.73,300.31 Z" fill="#008000"/>
<path d="M252.61,295.15 L258.01,295.15 L255.31,300.00 Z" fill="#008000"/>
<circle cx="30.00" cy="410.00" r="2.25" fill="#FF0000"/>
<circle cx="35.68" cy="381.88" r="2.25" fill="#FF0000"/>
<circle cx="43.25" cy="379.29" r="2.25" fill="#FF0000"/>
<circle cx="50.83" cy="378.00" r="2.25" fill="#FF0000"/>
<circle cx="58.40" cy="377.49" r="2.25" fill="#FF0000"/>
<circle cx="65.97" cy="376.99" r="2.25" fill="#FF0000"/>
<circle cx="73.55" cy="376.50" r="2.25" fill="#FF0000"/>
<circle cx="81.12" cy="375.89" r="2.25" fill="#FF0000"/>
<circle cx="88.69" cy="375.58" r="2.25" fill="#FF0000"/>
<circle cx="96.27" cy="375.29" r="2.25" fill="#FF0000"/>
<circle cx="103.84" cy="374.73" r="2.25" fill="#FF0000"/>
<circle cx="111.41" cy="374.29" r="2.25" fill="#FF0000"/>
<circle cx="118.99" cy="374.13" r="2.25" fill="#FF0000"/>
<circle cx="126.56" cy="373.99" r="2.25" fill="#FF0000"/>
<circle cx="134.13" cy="373.75" r="2.25" fill="#FF0000"/>
<circle cx="141.71" cy="373.49" r="2.25" fill="#FF0000"/>
<circle cx="149.28" cy="373.31" r="2.25" fill="#FF0000"/>
<circle cx="156.85" cy="373.14" r="2.25" fill="#FF0000"/>
<circle cx="164.43" cy="372.99" r="2.25" fill="#FF0000"/>
<circle cx="172.00" cy="372.85" r="2.25" fill="#FF0000"/>
<circle cx="179.57" cy="372.72" r="2.25" fill="#FF0000"/>
<circle cx="187.15" cy="372.59" r="2.25" fill="#FF0000"/>
<circle cx="194.72" cy="372.46" r="2.25" fill="#FF0000"/>
<circle cx="202.29" cy="372.32" r="2.25" fill="#FF0000"/>
<circle cx="209.87" cy="372.18" r="2.25" fill="#FF0000"/>
<circle cx="217.44" cy="372.02" r="2.25" fill="#FF0000"/>
<circle cx="225.01" cy="371.84" r="2.25" fill="#FF0000"/>
<circle cx="232.59" cy="371.69" r="2.25" fill="#FF0000"/>
<circle cx="240.16" cy="371.59" r="2.25" fill="#FF0000"/>
<circle cx="247.73" cy="371.53" r="2.25" fill="#FF0000"/>
<circle cx="255.31" cy="371.50" r="2.25" fill="#FF0000"/>
<polyline points="30.00,329.36 30.04,329.04 30.14,328.66 30.32,328.22 30.58,327.74 30.90,327.21 31.30,326.63 31.77,326.02 32.31,325.37 32.92,324.69 33.60,323.98 34.36,323.25 35.19,322.49 36.09,321.72 37.06,320.94 38.11,320.15 39.23,319.36 40.41,318.56 41.68,317.77 43.01,316.98 44.41,316.21 45.89,315.45 47.44,314.70 49.06,313.98 50.76,313.29 52.52,312.63 54.36,311.99 56.27,311.37 58.25,310.78 60.31,310.22 62.43,309.67 64.63,309.14 66.90,308.64 69.24,308.15 71.66,307.67 74.14,307.21 76.70,306.77 79.33,306.33 82.04,305.91 84.81,305.50 87.66,305.10 90.58,304.71 93.57,304.33 96.63,303.95 99.77,303.59 102.97,303.23 106.25,302.88 109.60,302.54 113.03,302.21 116.52,301.88 120.09,301.57 123.73,301.25 127.44,300.95 131.22,300.65 135.08,300.35 139.01,300.06 143.01,299.78 147.08,299.49 151.22,299.22 155.44,298.94 159.73,298.67 164.09,298.41 168.52,298.14 173.03,297.88 177.60,297.62 182.25,297.37 186.97,297.11 191.77,296.85 196.63,296.60 201.57,296.35 206.58,296.09 211.66,295.84 216.81,295.58 222.04,295.33 227.33,295.07 232.70,294.81 238.14,294.55 243.66,294.29 249.24,294.03 254.90,293.76" fill="none" stroke="#1010F8" stroke-width="1.25" stroke-linejoin="round"/>
<polyline points="30.00,398.02 30.04,397.84 30.14,397.62 30.32,397.38 30.57,397.11 30.90,396.82 31.29,396.50 31.76,396.16 32.30,395.79 32.91,395.41 33.59,395.00 34.35,394.57 35.17,394.13 36.07,393.67 37.04,393.20 38.08,392.71 39.20,392.21 40.38,391.70 41.64,391.18 42.97,390.65 44.37,390.11 45.84,389.57 47.39,389.02 49.00,388.47 50.69,387.91 52.45,387.36 54.28,386.80 56.19,386.24 58.16,385.69 60.21,385.14 62.33,384.60 64.52,384.06 66.79,383.53 69.12,383.01 71.53,382.50 74.01,382.00 76.56,381.51 79.18,381.03 81.87,380.56 84.64,380.10 87.48,379.64 90.39,379.20 93.37,378.77 96.42,378.35 99.55,377.93 102.75,377.53 106.01,377.14 109.36,376.75 112.77,376.37 116.25,376.00 119.81,375.64 123.44,375.29 127.14,374.95 130.91,374.61 134.75,374.28 138.67,373.96 142.66,373.65 146.72,373.35 150.85,373.05 155.05,372.76 159.33,372.48 163.67,372.21 168.09,371.94 172.58,371.68 177.14,371.42 181.78,371.18 186.48,370.94 191.26,370.70 196.11,370.47 201.03,370.25 206.03,370.04 211.09,369.83 216.23,369.62 221.44,369.42 226.72,369.23 232.07,369.04 237.50,368.86 242.99,368.69 248.56,368.51 254.20,368.35" fill="none" stroke="#1010F8" stroke-width="1.25" stroke-linejoin="round"/>
</g>
<line x1="34.8" y1="279.5" x2="34.8" y2="422.3" stroke="#A3262C" stroke-width="1.4" stroke-opacity="0.85" stroke-dasharray="2.2,1.1,0.9,1.1"/>
<line x1="127.2" y1="281.5" x2="127.2" y2="317.5" stroke="#A3262C" stroke-width="1.4" stroke-opacity="0.85" stroke-dasharray="2.2,1.1,0.9,1.1"/>
<line x1="141.5" y1="355.5" x2="141.5" y2="391.3" stroke="#A3262C" stroke-width="1.4" stroke-opacity="0.85" stroke-dasharray="2.2,1.1,0.9,1.1"/>
<line x1="30" y1="328.8" x2="49" y2="328.8" stroke="#A3262C" stroke-width="1.2"/>
<line x1="30" y1="341.2" x2="49" y2="341.2" stroke="#A3262C" stroke-width="1.2"/>
<line x1="42" y1="329.8" x2="42" y2="340.2" stroke="#A3262C" stroke-width="0.8"/>
<path d="M40.7,332.6 L42,329.40000000000003 L43.3,332.6 Z M40.7,337.4 L42,340.59999999999997 L43.3,337.4 Z" fill="#8B0000"/>
<line x1="30" y1="398.2" x2="49" y2="398.2" stroke="#A3262C" stroke-width="1.2"/>
<line x1="30" y1="410.3" x2="49" y2="410.3" stroke="#A3262C" stroke-width="1.2"/>
<line x1="42" y1="399.2" x2="42" y2="409.3" stroke="#A3262C" stroke-width="0.8"/>
<path d="M40.7,402.0 L42,398.8 L43.3,402.0 Z M40.7,406.5 L42,409.7 L43.3,406.5 Z" fill="#8B0000"/>
<text transform="translate(36.5,288.2) scale(1,1.1)" font-size="6.8" fill="#A3262C" stroke="#A3262C" stroke-width="0.12">Approaching experimental value</text>
<text transform="translate(159.2,288.5) scale(1,1.1)" font-size="7.2" fill="#A3262C" stroke="#A3262C" stroke-width="0.12">Close to matching</text>
<text transform="translate(46.5,337.5) scale(1,1.1)" font-size="7" fill="#A3262C" stroke="#A3262C" stroke-width="0.12">The higher&#160; fitting value</text>
<text transform="translate(42.5,363.5) scale(1,1.1)" font-size="6.8" fill="#A3262C" stroke="#A3262C" stroke-width="0.12">Approaching experimental value</text>
<text transform="translate(171.8,363.2) scale(1,1.1)" font-size="7.2" fill="#A3262C" stroke="#A3262C" stroke-width="0.12">Close to matching</text>
<text transform="translate(46.5,406.5) scale(1,1.1)" font-size="7" fill="#A3262C" stroke="#A3262C" stroke-width="0.12">The higher&#160; fitting value</text>
<text x="219.4" y="311" font-size="8.6" fill="#A3262C" stroke="#A3262C" stroke-width="0.12"><tspan font-style="italic">R</tspan><tspan font-size="5.5" dy="-3.3">2</tspan><tspan dy="3.3">=0.84</tspan></text>
<text x="219.5" y="384.2" font-size="8.6" fill="#A3262C" stroke="#A3262C" stroke-width="0.12"><tspan font-style="italic">R</tspan><tspan font-size="5.5" dy="-3.3">2</tspan><tspan dy="3.3">=0.80</tspan></text>
<rect x="30" y="240.5" width="236.5" height="181.8" fill="none" stroke="#383838" stroke-width="1.4"/>
<line x1="30.00" y1="422.3" x2="30.00" y2="419.3" stroke="#383838" stroke-width="1"/>
<text x="30.00" y="433.30" font-size="9" fill="#1a1a1a" stroke="#1a1a1a" stroke-width="0.08" text-anchor="middle" >0</text>
<line x1="48.93" y1="422.3" x2="48.93" y2="420.7" stroke="#383838" stroke-width="1"/>
<line x1="67.87" y1="422.3" x2="67.87" y2="419.3" stroke="#383838" stroke-width="1"/>
<text x="67.87" y="433.30" font-size="9" fill="#1a1a1a" stroke="#1a1a1a" stroke-width="0.08" text-anchor="middle" >1200</text>
<line x1="86.80" y1="422.3" x2="86.80" y2="420.7" stroke="#383838" stroke-width="1"/>
<line x1="105.73" y1="422.3" x2="105.73" y2="419.3" stroke="#383838" stroke-width="1"/>
<text x="105.73" y="433.30" font-size="9" fill="#1a1a1a" stroke="#1a1a1a" stroke-width="0.08" text-anchor="middle" >2400</text>
<line x1="124.67" y1="422.3" x2="124.67" y2="420.7" stroke="#383838" stroke-width="1"/>
<line x1="143.60" y1="422.3" x2="143.60" y2="419.3" stroke="#383838" stroke-width="1"/>
<text x="143.60" y="433.30" font-size="9" fill="#1a1a1a" stroke="#1a1a1a" stroke-width="0.08" text-anchor="middle" >3600</text>
<line x1="162.53" y1="422.3" x2="162.53" y2="420.7" stroke="#383838" stroke-width="1"/>
<line x1="181.47" y1="422.3" x2="181.47" y2="419.3" stroke="#383838" stroke-width="1"/>
<text x="181.47" y="433.30" font-size="9" fill="#1a1a1a" stroke="#1a1a1a" stroke-width="0.08" text-anchor="middle" >4800</text>
<line x1="200.40" y1="422.3" x2="200.40" y2="420.7" stroke="#383838" stroke-width="1"/>
<line x1="219.33" y1="422.3" x2="219.33" y2="419.3" stroke="#383838" stroke-width="1"/>
<text x="219.33" y="433.30" font-size="9" fill="#1a1a1a" stroke="#1a1a1a" stroke-width="0.08" text-anchor="middle" >6000</text>
<line x1="238.27" y1="422.3" x2="238.27" y2="420.7" stroke="#383838" stroke-width="1"/>
<line x1="257.20" y1="422.3" x2="257.20" y2="419.3" stroke="#383838" stroke-width="1"/>
<text x="257.20" y="433.30" font-size="9" fill="#1a1a1a" stroke="#1a1a1a" stroke-width="0.08" text-anchor="middle" >7200</text>
<line x1="30" y1="422.30" x2="33" y2="422.30" stroke="#383838" stroke-width="1"/>
<text x="26.40" y="425.40" font-size="9" fill="#1a1a1a" stroke="#1a1a1a" stroke-width="0.08" text-anchor="end" >0.2</text>
<line x1="30" y1="404.12" x2="31.6" y2="404.12" stroke="#383838" stroke-width="1"/>
<line x1="30" y1="385.94" x2="33" y2="385.94" stroke="#383838" stroke-width="1"/>
<text x="26.40" y="389.04" font-size="9" fill="#1a1a1a" stroke="#1a1a1a" stroke-width="0.08" text-anchor="end" >0.3</text>
<line x1="30" y1="367.76" x2="31.6" y2="367.76" stroke="#383838" stroke-width="1"/>
<line x1="30" y1="349.58" x2="33" y2="349.58" stroke="#383838" stroke-width="1"/>
<text x="26.40" y="352.68" font-size="9" fill="#1a1a1a" stroke="#1a1a1a" stroke-width="0.08" text-anchor="end" >0.4</text>
<line x1="30" y1="331.40" x2="31.6" y2="331.40" stroke="#383838" stroke-width="1"/>
<line x1="30" y1="313.22" x2="33" y2="313.22" stroke="#383838" stroke-width="1"/>
<text x="26.40" y="316.32" font-size="9" fill="#1a1a1a" stroke="#1a1a1a" stroke-width="0.08" text-anchor="end" >0.5</text>
<line x1="30" y1="295.04" x2="31.6" y2="295.04" stroke="#383838" stroke-width="1"/>
<line x1="30" y1="276.86" x2="33" y2="276.86" stroke="#383838" stroke-width="1"/>
<text x="26.40" y="279.96" font-size="9" fill="#1a1a1a" stroke="#1a1a1a" stroke-width="0.08" text-anchor="end" >0.6</text>
<line x1="30" y1="258.68" x2="31.6" y2="258.68" stroke="#383838" stroke-width="1"/>
<line x1="30" y1="240.50" x2="33" y2="240.50" stroke="#383838" stroke-width="1"/>
<text x="26.40" y="243.60" font-size="9" fill="#1a1a1a" stroke="#1a1a1a" stroke-width="0.08" text-anchor="end" >0.7</text>
<text transform="translate(11.3,332) rotate(-90)" font-size="9" fill="#1a1a1a" stroke="#1a1a1a" stroke-width="0.15" text-anchor="middle"><tspan>ε</tspan><tspan font-size="6" dy="1.8">1</tspan><tspan dy="-1.8"> /%</tspan></text>
<text x="143.60" y="441.3" font-size="9" fill="#1a1a1a" stroke="#1a1a1a" stroke-width="0.1" text-anchor="middle"><tspan font-style="italic">t</tspan> /s</text>
<text x="136.2" y="459.2" font-size="10" fill="#1a1a1a" text-anchor="middle" font-weight="bold">(c)</text>
<circle cx="42.5" cy="256" r="2.25" fill="#FF0000"/>
<path d="M39.8,266.45 L45.2,266.45 L42.5,271.55 Z" fill="#008000"/>
<text x="55" y="258.5" font-size="8.8" fill="#1a1a1a" stroke="#1a1a1a" stroke-width="0.1">0.5<tspan font-style="italic">σ</tspan><tspan font-size="6" dy="1.8" font-style="italic">c</tspan><tspan dy="-1.8">experimental value</tspan></text>
<text x="55" y="271.8" font-size="8.8" fill="#1a1a1a" stroke="#1a1a1a" stroke-width="0.1">0.7<tspan font-style="italic">σ</tspan><tspan font-size="6" dy="1.8" font-style="italic">c</tspan><tspan dy="-1.8">experimental value</tspan></text>
<line x1="159.4" y1="254.6" x2="179.6" y2="254.6" stroke="#1010F8" stroke-width="1.2"/>
<text x="182.40" y="257.40" font-size="8.9" fill="#1a1a1a" stroke="#1a1a1a" stroke-width="0.08" text-anchor="start" >Validation curve</text>
<clipPath id="c3335"><rect x="309.5" y="240.8" width="236.29999999999995" height="181.2"/></clipPath><g clip-path="url(#c3335)">
<path d="M306.80,346.65 L312.20,346.65 L309.50,351.50 Z" fill="#008000"/>
<path d="M312.47,319.67 L317.87,319.67 L315.17,324.52 Z" fill="#008000"/>
<path d="M320.04,316.03 L325.44,316.03 L322.74,320.88 Z" fill="#008000"/>
<path d="M327.60,314.28 L333.00,314.28 L330.30,319.13 Z" fill="#008000"/>
<path d="M335.16,313.47 L340.56,313.47 L337.86,318.32 Z" fill="#008000"/>
<path d="M342.73,312.06 L348.13,312.06 L345.43,316.91 Z" fill="#008000"/>
<path d="M350.29,311.25 L355.69,311.25 L352.99,316.10 Z" fill="#008000"/>
<path d="M357.85,309.35 L363.25,309.35 L360.55,314.20 Z" fill="#008000"/>
<path d="M365.42,309.12 L370.82,309.12 L368.12,313.97 Z" fill="#008000"/>
<path d="M372.98,308.94 L378.38,308.94 L375.68,313.79 Z" fill="#008000"/>
<path d="M380.54,308.57 L385.94,308.57 L383.24,313.42 Z" fill="#008000"/>
<path d="M388.11,308.13 L393.51,308.13 L390.81,312.98 Z" fill="#008000"/>
<path d="M395.67,307.71 L401.07,307.71 L398.37,312.56 Z" fill="#008000"/>
<path d="M403.23,307.33 L408.63,307.33 L405.93,312.18 Z" fill="#008000"/>
<path d="M410.80,307.06 L416.20,307.06 L413.50,311.91 Z" fill="#008000"/>
<path d="M418.36,306.84 L423.76,306.84 L421.06,311.69 Z" fill="#008000"/>
<path d="M425.92,306.67 L431.32,306.67 L428.62,311.52 Z" fill="#008000"/>
<path d="M433.49,306.52 L438.89,306.52 L436.19,311.37 Z" fill="#008000"/>
<path d="M441.05,306.33 L446.45,306.33 L443.75,311.18 Z" fill="#008000"/>
<path d="M448.61,306.06 L454.01,306.06 L451.31,310.91 Z" fill="#008000"/>
<path d="M456.18,305.74 L461.58,305.74 L458.88,310.59 Z" fill="#008000"/>
<path d="M463.74,305.40 L469.14,305.40 L466.44,310.25 Z" fill="#008000"/>
<path d="M471.30,305.09 L476.70,305.09 L474.00,309.94 Z" fill="#008000"/>
<path d="M478.87,304.78 L484.27,304.78 L481.57,309.63 Z" fill="#008000"/>
<path d="M486.43,304.47 L491.83,304.47 L489.13,309.32 Z" fill="#008000"/>
<path d="M493.99,304.16 L499.39,304.16 L496.69,309.01 Z" fill="#008000"/>
<path d="M501.56,303.85 L506.96,303.85 L504.26,308.70 Z" fill="#008000"/>
<path d="M509.12,303.55 L514.52,303.55 L511.82,308.40 Z" fill="#008000"/>
<path d="M516.68,303.24 L522.08,303.24 L519.38,308.09 Z" fill="#008000"/>
<path d="M524.25,302.94 L529.65,302.94 L526.95,307.79 Z" fill="#008000"/>
<path d="M531.81,302.63 L537.21,302.63 L534.51,307.48 Z" fill="#008000"/>
<circle cx="309.50" cy="418.00" r="2.25" fill="#FF0000"/>
<circle cx="315.17" cy="392.30" r="2.25" fill="#FF0000"/>
<circle cx="322.74" cy="389.59" r="2.25" fill="#FF0000"/>
<circle cx="330.30" cy="386.46" r="2.25" fill="#FF0000"/>
<circle cx="337.86" cy="384.91" r="2.25" fill="#FF0000"/>
<circle cx="345.43" cy="384.40" r="2.25" fill="#FF0000"/>
<circle cx="352.99" cy="384.00" r="2.25" fill="#FF0000"/>
<circle cx="360.55" cy="383.50" r="2.25" fill="#FF0000"/>
<circle cx="368.12" cy="383.18" r="2.25" fill="#FF0000"/>
<circle cx="375.68" cy="382.89" r="2.25" fill="#FF0000"/>
<circle cx="383.24" cy="382.56" r="2.25" fill="#FF0000"/>
<circle cx="390.81" cy="382.18" r="2.25" fill="#FF0000"/>
<circle cx="398.37" cy="381.61" r="2.25" fill="#FF0000"/>
<circle cx="405.93" cy="381.19" r="2.25" fill="#FF0000"/>
<circle cx="413.50" cy="381.07" r="2.25" fill="#FF0000"/>
<circle cx="421.06" cy="380.99" r="2.25" fill="#FF0000"/>
<circle cx="428.62" cy="380.89" r="2.25" fill="#FF0000"/>
<circle cx="436.19" cy="380.69" r="2.25" fill="#FF0000"/>
<circle cx="443.75" cy="380.46" r="2.25" fill="#FF0000"/>
<circle cx="451.31" cy="380.27" r="2.25" fill="#FF0000"/>
<circle cx="458.88" cy="380.13" r="2.25" fill="#FF0000"/>
<circle cx="466.44" cy="380.00" r="2.25" fill="#FF0000"/>
<circle cx="474.00" cy="379.88" r="2.25" fill="#FF0000"/>
<circle cx="481.57" cy="379.77" r="2.25" fill="#FF0000"/>
<circle cx="489.13" cy="379.66" r="2.25" fill="#FF0000"/>
<circle cx="496.69" cy="379.55" r="2.25" fill="#FF0000"/>
<circle cx="504.26" cy="379.45" r="2.25" fill="#FF0000"/>
<circle cx="511.82" cy="379.36" r="2.25" fill="#FF0000"/>
<circle cx="519.38" cy="379.26" r="2.25" fill="#FF0000"/>
<circle cx="526.95" cy="379.18" r="2.25" fill="#FF0000"/>
<circle cx="534.51" cy="379.09" r="2.25" fill="#FF0000"/>
<polyline points="309.50,339.50 309.54,339.11 309.64,338.68 309.83,338.21 310.08,337.71 310.40,337.18 310.80,336.62 311.27,336.02 311.81,335.40 312.43,334.76 313.11,334.09 313.87,333.40 314.70,332.69 315.61,331.96 316.58,331.21 317.63,330.46 318.75,329.68 319.94,328.90 321.21,328.11 322.54,327.31 323.95,326.51 325.43,325.70 326.99,324.89 328.61,324.09 330.31,323.29 332.08,322.49 333.93,321.71 335.84,320.94 337.83,320.18 339.89,319.44 342.02,318.73 344.22,318.04 346.50,317.38 348.85,316.74 351.27,316.14 353.76,315.57 356.33,315.02 358.96,314.49 361.67,313.99 364.46,313.51 367.31,313.05 370.24,312.60 373.24,312.17 376.31,311.76 379.45,311.35 382.67,310.96 385.96,310.57 389.32,310.20 392.75,309.82 396.25,309.46 399.83,309.10 403.48,308.74 407.20,308.39 410.99,308.04 414.86,307.69 418.80,307.35 422.81,307.01 426.89,306.67 431.05,306.34 435.28,306.01 439.58,305.69 443.95,305.37 448.39,305.05 452.91,304.74 457.50,304.44 462.16,304.14 466.89,303.85 471.70,303.56 476.57,303.29 481.52,303.02 486.55,302.75 491.64,302.50 496.81,302.25 502.05,302.02 507.36,301.79 512.74,301.57 518.20,301.36 523.73,301.16 529.33,300.98 535.00,300.80" fill="none" stroke="#1010F8" stroke-width="1.25" stroke-linejoin="round"/>
<polyline points="309.50,409.50 309.54,409.05 309.64,408.59 309.83,408.10 310.08,407.60 310.40,407.09 310.80,406.56 311.27,406.02 311.81,405.47 312.43,404.90 313.11,404.33 313.87,403.75 314.70,403.15 315.61,402.56 316.58,401.95 317.63,401.34 318.75,400.72 319.94,400.11 321.21,399.48 322.54,398.86 323.95,398.23 325.43,397.61 326.99,396.99 328.61,396.36 330.31,395.74 332.08,395.13 333.93,394.51 335.84,393.91 337.83,393.30 339.89,392.71 342.02,392.12 344.22,391.55 346.50,390.98 348.85,390.42 351.27,389.88 353.76,389.34 356.33,388.82 358.96,388.31 361.67,387.81 364.46,387.33 367.31,386.85 370.24,386.38 373.24,385.93 376.31,385.48 379.45,385.05 382.67,384.63 385.96,384.22 389.32,383.81 392.75,383.42 396.25,383.04 399.83,382.66 403.48,382.30 407.20,381.94 410.99,381.60 414.86,381.26 418.80,380.93 422.81,380.61 426.89,380.30 431.05,380.00 435.28,379.71 439.58,379.42 443.95,379.14 448.39,378.87 452.91,378.61 457.50,378.35 462.16,378.10 466.89,377.86 471.70,377.63 476.57,377.40 481.52,377.18 486.55,376.97 491.64,376.76 496.81,376.56 502.05,376.36 507.36,376.17 512.74,375.98 518.20,375.81 523.73,375.63 529.33,375.46 535.00,375.30" fill="none" stroke="#1010F8" stroke-width="1.25" stroke-linejoin="round"/>
</g>
<line x1="314.2" y1="288.5" x2="314.2" y2="422" stroke="#A3262C" stroke-width="1.4" stroke-opacity="0.85" stroke-dasharray="2.2,1.1,0.9,1.1"/>
<line x1="390.6" y1="291" x2="390.6" y2="326.5" stroke="#A3262C" stroke-width="1.4" stroke-opacity="0.85" stroke-dasharray="2.2,1.1,0.9,1.1"/>
<line x1="420.8" y1="360.7" x2="420.8" y2="396.7" stroke="#A3262C" stroke-width="1.4" stroke-opacity="0.85" stroke-dasharray="2.2,1.1,0.9,1.1"/>
<line x1="309.5" y1="340.2" x2="327.8" y2="340.2" stroke="#A3262C" stroke-width="1.2"/>
<line x1="309.5" y1="349.2" x2="327.8" y2="349.2" stroke="#A3262C" stroke-width="1.2"/>
<line x1="322" y1="341.2" x2="322" y2="348.2" stroke="#A3262C" stroke-width="0.8"/>
<path d="M320.7,343.5 L322,340.8 L323.3,343.5 Z M320.7,345.9 L322,348.59999999999997 L323.3,345.9 Z" fill="#8B0000"/>
<line x1="309.5" y1="409.8" x2="327.8" y2="409.8" stroke="#A3262C" stroke-width="1.2"/>
<line x1="309.5" y1="419.2" x2="327.8" y2="419.2" stroke="#A3262C" stroke-width="1.2"/>
<line x1="322" y1="410.8" x2="322" y2="418.2" stroke="#A3262C" stroke-width="0.8"/>
<path d="M320.7,413.22 L322,410.40000000000003 L323.3,413.22 Z M320.7,415.78 L322,418.59999999999997 L323.3,415.78 Z" fill="#8B0000"/>
<text transform="translate(333.5,291) scale(1,1.1)" font-size="7" fill="#A3262C" stroke="#A3262C" stroke-width="0.12">Approaching</text>
<text transform="translate(326,301.5) scale(1,1.1)" font-size="7.1" fill="#A3262C" stroke="#A3262C" stroke-width="0.12">experimental value</text>
<text transform="translate(446.9,295.4) scale(1,1.1)" font-size="7.2" fill="#A3262C" stroke="#A3262C" stroke-width="0.12">Close to matching</text>
<text transform="translate(330,347) scale(1,1.1)" font-size="7.1" fill="#A3262C" stroke="#A3262C" stroke-width="0.12">The higher&#160; fitting value</text>
<text transform="translate(319,371.6) scale(1,1.1)" font-size="7.1" fill="#A3262C" stroke="#A3262C" stroke-width="0.12">Approaching experimental value</text>
<text transform="translate(451,371) scale(1,1.1)" font-size="7.2" fill="#A3262C" stroke="#A3262C" stroke-width="0.12">Close to matching</text>
<text transform="translate(330,416.5) scale(1,1.1)" font-size="7.1" fill="#A3262C" stroke="#A3262C" stroke-width="0.12">The higher&#160; fitting value</text>
<text x="499.6" y="317.4" font-size="8.6" fill="#A3262C" stroke="#A3262C" stroke-width="0.12"><tspan font-style="italic">R</tspan><tspan font-size="5.5" dy="-3.3">2</tspan><tspan dy="3.3">=0.82</tspan></text>
<text x="499.6" y="391.3" font-size="8.6" fill="#A3262C" stroke="#A3262C" stroke-width="0.12"><tspan font-style="italic">R</tspan><tspan font-size="5.5" dy="-3.3">2</tspan><tspan dy="3.3">=0.81</tspan></text>
<line x1="321" y1="428.5" x2="313.8" y2="422.6" stroke="#A3262C" stroke-width="0.9"/>
<path d="M313.8,422.6 L317.16,423.55 L315.39,425.71 Z" fill="#8B0000"/>
<text x="321.90" y="431.50" font-size="6.8" fill="#A3262C" stroke="#A3262C" stroke-width="0.08" text-anchor="start" >120</text>
<rect x="309.5" y="240.8" width="236.29999999999995" height="181.2" fill="none" stroke="#383838" stroke-width="1.4"/>
<line x1="309.50" y1="422" x2="309.50" y2="419" stroke="#383838" stroke-width="1"/>
<text x="309.50" y="433.00" font-size="9" fill="#1a1a1a" stroke="#1a1a1a" stroke-width="0.08" text-anchor="middle" >0</text>
<line x1="328.41" y1="422" x2="328.41" y2="420.4" stroke="#383838" stroke-width="1"/>
<line x1="347.32" y1="422" x2="347.32" y2="419" stroke="#383838" stroke-width="1"/>
<text x="347.32" y="433.00" font-size="9" fill="#1a1a1a" stroke="#1a1a1a" stroke-width="0.08" text-anchor="middle" >1200</text>
<line x1="366.22" y1="422" x2="366.22" y2="420.4" stroke="#383838" stroke-width="1"/>
<line x1="385.13" y1="422" x2="385.13" y2="419" stroke="#383838" stroke-width="1"/>
<text x="385.13" y="433.00" font-size="9" fill="#1a1a1a" stroke="#1a1a1a" stroke-width="0.08" text-anchor="middle" >2400</text>
<line x1="404.04" y1="422" x2="404.04" y2="420.4" stroke="#383838" stroke-width="1"/>
<line x1="422.95" y1="422" x2="422.95" y2="419" stroke="#383838" stroke-width="1"/>
<text x="422.95" y="433.00" font-size="9" fill="#1a1a1a" stroke="#1a1a1a" stroke-width="0.08" text-anchor="middle" >3600</text>
<line x1="441.86" y1="422" x2="441.86" y2="420.4" stroke="#383838" stroke-width="1"/>
<line x1="460.77" y1="422" x2="460.77" y2="419" stroke="#383838" stroke-width="1"/>
<text x="460.77" y="433.00" font-size="9" fill="#1a1a1a" stroke="#1a1a1a" stroke-width="0.08" text-anchor="middle" >4800</text>
<line x1="479.67" y1="422" x2="479.67" y2="420.4" stroke="#383838" stroke-width="1"/>
<line x1="498.58" y1="422" x2="498.58" y2="419" stroke="#383838" stroke-width="1"/>
<text x="498.58" y="433.00" font-size="9" fill="#1a1a1a" stroke="#1a1a1a" stroke-width="0.08" text-anchor="middle" >6000</text>
<line x1="517.49" y1="422" x2="517.49" y2="420.4" stroke="#383838" stroke-width="1"/>
<line x1="536.40" y1="422" x2="536.40" y2="419" stroke="#383838" stroke-width="1"/>
<text x="536.40" y="433.00" font-size="9" fill="#1a1a1a" stroke="#1a1a1a" stroke-width="0.08" text-anchor="middle" >7200</text>
<line x1="309.5" y1="422.00" x2="312.5" y2="422.00" stroke="#383838" stroke-width="1"/>
<text x="305.90" y="425.10" font-size="9" fill="#1a1a1a" stroke="#1a1a1a" stroke-width="0.08" text-anchor="end" >0.2</text>
<line x1="309.5" y1="403.88" x2="311.1" y2="403.88" stroke="#383838" stroke-width="1"/>
<line x1="309.5" y1="385.76" x2="312.5" y2="385.76" stroke="#383838" stroke-width="1"/>
<text x="305.90" y="388.86" font-size="9" fill="#1a1a1a" stroke="#1a1a1a" stroke-width="0.08" text-anchor="end" >0.3</text>
<line x1="309.5" y1="367.64" x2="311.1" y2="367.64" stroke="#383838" stroke-width="1"/>
<line x1="309.5" y1="349.52" x2="312.5" y2="349.52" stroke="#383838" stroke-width="1"/>
<text x="305.90" y="352.62" font-size="9" fill="#1a1a1a" stroke="#1a1a1a" stroke-width="0.08" text-anchor="end" >0.4</text>
<line x1="309.5" y1="331.40" x2="311.1" y2="331.40" stroke="#383838" stroke-width="1"/>
<line x1="309.5" y1="313.28" x2="312.5" y2="313.28" stroke="#383838" stroke-width="1"/>
<text x="305.90" y="316.38" font-size="9" fill="#1a1a1a" stroke="#1a1a1a" stroke-width="0.08" text-anchor="end" >0.5</text>
<line x1="309.5" y1="295.16" x2="311.1" y2="295.16" stroke="#383838" stroke-width="1"/>
<line x1="309.5" y1="277.04" x2="312.5" y2="277.04" stroke="#383838" stroke-width="1"/>
<text x="305.90" y="280.14" font-size="9" fill="#1a1a1a" stroke="#1a1a1a" stroke-width="0.08" text-anchor="end" >0.6</text>
<line x1="309.5" y1="258.92" x2="311.1" y2="258.92" stroke="#383838" stroke-width="1"/>
<line x1="309.5" y1="240.80" x2="312.5" y2="240.80" stroke="#383838" stroke-width="1"/>
<text x="305.90" y="243.90" font-size="9" fill="#1a1a1a" stroke="#1a1a1a" stroke-width="0.08" text-anchor="end" >0.7</text>
<text transform="translate(290.8,331.5) rotate(-90)" font-size="9" fill="#1a1a1a" stroke="#1a1a1a" stroke-width="0.15" text-anchor="middle"><tspan>ε</tspan><tspan font-size="6" dy="1.8">1</tspan><tspan dy="-1.8"> /%</tspan></text>
<text x="422.95" y="441" font-size="9" fill="#1a1a1a" stroke="#1a1a1a" stroke-width="0.1" text-anchor="middle"><tspan font-style="italic">t</tspan> /s</text>
<text x="416" y="459" font-size="10" fill="#1a1a1a" text-anchor="middle" font-weight="bold">(d)</text>
<circle cx="322" cy="256.4" r="2.25" fill="#FF0000"/>
<path d="M319.3,266.84999999999997 L324.7,266.84999999999997 L322,271.95 Z" fill="#008000"/>
<text x="334" y="259.4" font-size="8.8" fill="#1a1a1a" stroke="#1a1a1a" stroke-width="0.1">0.5<tspan font-style="italic">σ</tspan><tspan font-size="6" dy="1.8" font-style="italic">c</tspan><tspan dy="-1.8">experimental value</tspan></text>
<text x="334" y="272" font-size="8.8" fill="#1a1a1a" stroke="#1a1a1a" stroke-width="0.1">0.7<tspan font-style="italic">σ</tspan><tspan font-size="6" dy="1.8" font-style="italic">c</tspan><tspan dy="-1.8">experimental value</tspan></text>
<line x1="432" y1="258" x2="452.6" y2="258" stroke="#1010F8" stroke-width="1.2"/>
<text x="455.40" y="261.00" font-size="8.9" fill="#1a1a1a" stroke="#1a1a1a" stroke-width="0.08" text-anchor="start" >Validation curve</text>
</svg></body></html>
